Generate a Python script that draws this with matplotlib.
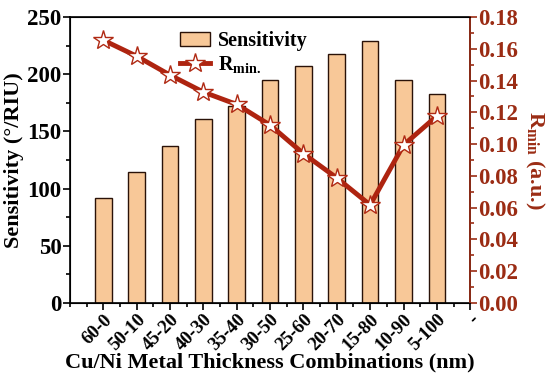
import numpy as np
import matplotlib.pyplot as plt
from matplotlib.ticker import MultipleLocator

# Données
categories = ['60-0', '50-10', '45-20', '40-30', '35-40', '30-50',
              '25-60', '20-70', '15-80', '10-90', '5-100']
sensitivity = [92, 114.5, 137, 161, 172, 195, 207, 218, 229, 195, 183]
rmin = [0.1655, 0.1554, 0.1435, 0.1328, 0.1250, 0.1120,
        0.0940, 0.0787, 0.0617, 0.0994, 0.1177]
tick_labels = categories + ['-']

plt.rcParams['font.family'] = ['Liberation Serif', 'DejaVu Serif']
plt.rcParams['font.weight'] = 'bold'
plt.rcParams['mathtext.fontset'] = 'custom'
plt.rcParams['mathtext.rm'] = 'Liberation Serif:bold'
plt.rcParams['mathtext.it'] = 'Liberation Serif:bold'
plt.rcParams['mathtext.bf'] = 'Liberation Serif:bold'

bar_color = '#F8C898'
line_color = '#AE2410'
right_color = '#9B2C14'

x = np.arange(1, len(categories) + 1)

fig = plt.figure(figsize=(5.5, 3.8), dpi=100)
ax = fig.add_axes([0.127, 0.203, 0.728, 0.752])

bars = ax.bar(x, sensitivity, width=0.5, color=bar_color, edgecolor='#2a1208',
              linewidth=1.0, label='Sensitivity')
ax.set_xlim(0, 12)
ax.set_ylim(0, 250)
ax.set_xticks(np.arange(1, 13))
ax.set_xticklabels(tick_labels, rotation=45, ha='right', rotation_mode='anchor',
                   fontsize=13.5, fontweight='bold')
ax.xaxis.set_minor_locator(MultipleLocator(0.5))
ax.yaxis.set_major_locator(MultipleLocator(50))
ax.yaxis.set_minor_locator(MultipleLocator(25))
ax.tick_params(axis='y', which='major', labelsize=16.5, length=5, width=1.2, pad=1)
ax.tick_params(axis='y', which='minor', length=3, width=1.2)
ax.tick_params(axis='x', which='major', length=5, width=1.2, pad=1)
ax.tick_params(axis='x', which='minor', length=3, width=1.2)
for sp in ax.spines.values():
    sp.set_linewidth(1.2)
ax.set_ylabel('Sensitivity (°/RIU)', fontsize=16, fontweight='bold', labelpad=2)
ax.set_xlabel('Cu/Ni Metal Thickness Combinations (nm)', fontsize=16,
              fontweight='bold', labelpad=-1)

ax2 = ax.twinx()
line, = ax2.plot(x, rmin, color=line_color, linewidth=3.5, marker='*',
                 markersize=15, markerfacecolor='white',
                 markeredgecolor='#B02A14', markeredgewidth=1.0,
                 label=r'R$_{\mathrm{min.}}$')
ax2.set_ylim(0, 0.18)
ax2.yaxis.set_major_locator(MultipleLocator(0.02))
ax2.yaxis.set_minor_locator(MultipleLocator(0.01))
ax2.yaxis.set_major_formatter(plt.FormatStrFormatter('%.2f'))
ax2.tick_params(axis='y', which='major', labelsize=16.5, length=5, width=1.2,
                colors=right_color, pad=1)
ax2.tick_params(axis='y', which='minor', length=3, width=1.2, colors=right_color)
ax2.spines['right'].set_color(right_color)
ax2.spines['right'].set_linewidth(1.2)
ax2.set_ylabel(r'R$_{\mathrm{min}}$ (a.u.)', fontsize=16, fontweight='bold',
               color=right_color, rotation=270, labelpad=20)

leg = ax.legend([bars, line], ['Sensitivity', r'R$_{\mathrm{min.}}$'],
                loc='upper left', bbox_to_anchor=(0.24, 1.0), frameon=False,
                fontsize=14.5, handlelength=1.5, handletextpad=0.4,
                borderaxespad=0.3, labelspacing=0.15)

plt.savefig('out.png', dpi=100)
